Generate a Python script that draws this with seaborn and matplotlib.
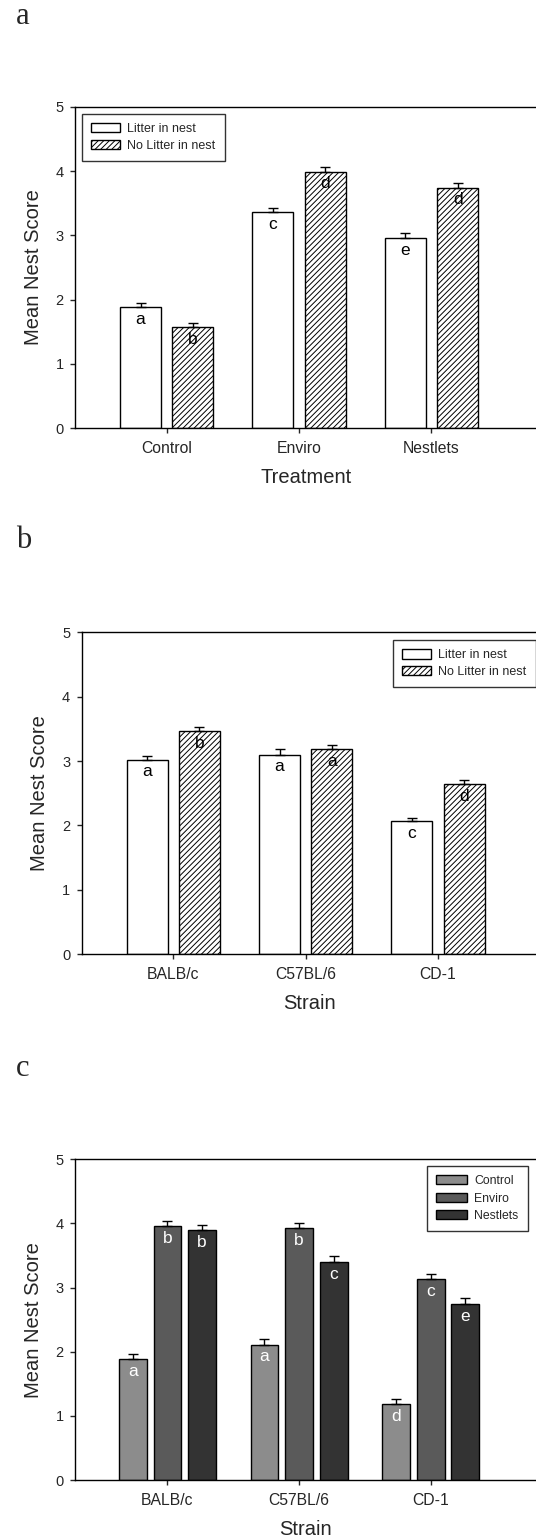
import numpy as np
import pandas as pd
import seaborn as sns
import matplotlib.pyplot as plt
from matplotlib.patches import Patch

treatments = ['Control', 'Enviro', 'Nestlets']
strains = ['BALB/c', 'C57BL/6', 'CD-1']
litter_groups = ['Litter in nest', 'No Litter in nest']

# panel a: treatment x litter
a_litter = [1.88, 3.36, 2.96]
a_nolitter = [1.57, 3.99, 3.74]
a_litter_err = [0.07, 0.06, 0.07]
a_nolitter_err = [0.06, 0.07, 0.07]
a_litter_letters = ['a', 'c', 'e']
a_nolitter_letters = ['b', 'd', 'd']

# panel b: strain x litter
b_litter = [3.02, 3.10, 2.06]
b_nolitter = [3.46, 3.18, 2.64]
b_litter_err = [0.06, 0.08, 0.06]
b_nolitter_err = [0.07, 0.07, 0.06]
b_litter_letters = ['a', 'a', 'c']
b_nolitter_letters = ['b', 'a', 'd']

# panel c: strain x treatment
c_control = [1.88, 2.11, 1.18]
c_enviro = [3.95, 3.92, 3.13]
c_nestlets = [3.89, 3.40, 2.74]
c_control_err = [0.08, 0.09, 0.08]
c_enviro_err = [0.09, 0.08, 0.08]
c_nestlets_err = [0.08, 0.09, 0.09]
c_control_letters = ['a', 'a', 'd']
c_enviro_letters = ['b', 'b', 'c']
c_nestlets_letters = ['b', 'c', 'e']

sns.set_style('ticks')
plt.rcParams['font.family'] = ['Liberation Sans', 'DejaVu Sans']
plt.rcParams['hatch.linewidth'] = 0.7


def panel(ax, cats, groups, values, errs, letters, palette, hatches,
          letter_color, width, gap, xlabel, xlim, leg_loc, leg_anchor, leg_fs,
          leg_hl=2.3, leg_sp=0.35):
    df = pd.DataFrame({
        'cat': [c for g in groups for c in cats],
        'grp': [g for g in groups for c in cats],
        'val': [v for vals in values for v in vals],
    })
    sns.barplot(data=df, x='cat', y='val', hue='grp', palette=palette,
                saturation=1, width=width, gap=gap, edgecolor='black',
                linewidth=1, errorbar=None, legend=False, ax=ax)
    for cont, err, lets, hatch in zip(ax.containers, errs, letters, hatches):
        xs = [p.get_x() + p.get_width() / 2 for p in cont]
        ys = [p.get_height() for p in cont]
        for p in cont:
            p.set_hatch(hatch)
        ax.errorbar(xs, ys, yerr=[np.zeros(len(ys)), err], fmt='none',
                    ecolor='black', elinewidth=1, capsize=3.8, capthick=1,
                    zorder=3)
        for x, y, t in zip(xs, ys, lets):
            ax.text(x, y - 0.19, t, ha='center', va='center', fontsize=12.5,
                    color=letter_color, zorder=4)
    ax.set_ylim(0, 5)
    ax.set_xlim(*xlim)
    ax.set_yticks(range(6))
    ax.set_xlabel(xlabel, fontsize=14.5, labelpad=8.5)
    ax.set_ylabel('Mean Nest Score', fontsize=14.5, labelpad=9)
    ax.tick_params(direction='out', length=3.5, width=1)
    ax.tick_params(axis='x', labelsize=11.3, pad=6)
    ax.tick_params(axis='y', labelsize=10.5, pad=5)
    for s in ax.spines.values():
        s.set_linewidth(1)
        s.set_color('black')
    ax.spines['right'].set_visible(False)
    handles = [Patch(facecolor=c, edgecolor='black', hatch=h, label=g)
               for c, h, g in zip(palette, hatches, groups)]
    leg = ax.legend(handles=handles, loc=leg_loc, bbox_to_anchor=leg_anchor,
                    borderaxespad=0, fancybox=False, fontsize=leg_fs,
                    handlelength=leg_hl, handleheight=0.75,
                    labelspacing=leg_sp, borderpad=0.75, handletextpad=0.6)
    leg.get_frame().set_edgecolor('black')
    leg.get_frame().set_linewidth(1)


fig = plt.figure(figsize=(5.36, 15.4), dpi=100)
ax_a = fig.add_axes([0.1405, 0.7219, 0.8595, 0.2088])
ax_b = fig.add_axes([0.1530, 0.3805, 0.8470, 0.2089])
ax_c = fig.add_axes([0.1405, 0.0388, 0.8595, 0.2086])

panel(ax_a, treatments, litter_groups, [a_litter, a_nolitter],
      [a_litter_err, a_nolitter_err], [a_litter_letters, a_nolitter_letters],
      ['white', 'white'], ['', '//////'], 'black', 0.79, 0.215,
      'Treatment', (-0.69, 2.79), 'upper left', (0.0139, 0.978), 9)
panel(ax_b, strains, litter_groups, [b_litter, b_nolitter],
      [b_litter_err, b_nolitter_err], [b_litter_letters, b_nolitter_letters],
      ['white', 'white'], ['', '//////'], 'black', 0.79, 0.215,
      'Strain', (-0.69, 2.74), 'upper left', (0.684, 0.976), 9)
panel(ax_c, strains, treatments, [c_control, c_enviro, c_nestlets],
      [c_control_err, c_enviro_err, c_nestlets_err],
      [c_control_letters, c_enviro_letters, c_nestlets_letters],
      ['#8c8c8c', '#5a5a5a', '#333333'], ['', '', ''], 'white', 0.79, 0.2,
      'Strain', (-0.70, 2.80), 'upper right', (0.982, 0.978), 8.8,
      leg_hl=2.5, leg_sp=0.45)

for lab, ypix in [('a', 16), ('b', 541), ('c', 1068)]:
    fig.text(16 / 536, 1 - ypix / 1540, lab, family='Liberation Serif',
             fontsize=22, va='center', ha='left')

fig.savefig('out.png', dpi=100)
